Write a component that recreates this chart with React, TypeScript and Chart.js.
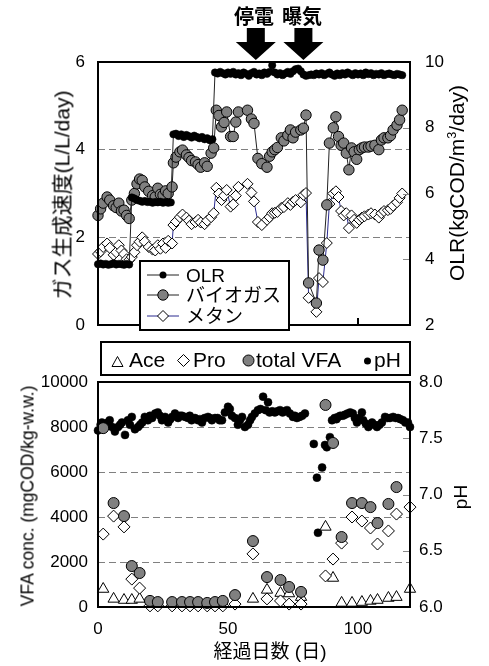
import React, { useEffect, useRef } from "react";
import { Chart, registerables } from "chart.js";

Chart.register(...registerables);

const LATIN = "'Liberation Sans', Arial, 'Noto Sans CJK JP', sans-serif";
const CJK = "'Noto Sans CJK JP', 'Liberation Sans', sans-serif";

// ---------------- top panel data ----------------
const olrDays = [
  0, 1, 2, 3, 4, 5, 6, 7, 8, 9, 10, 11, 12,
  13, 14, 15, 16, 17, 18, 19, 20, 21, 22, 23, 24, 25, 26, 27, 28,
  29, 30, 31, 32, 33, 34, 35, 36, 37, 38, 39, 40, 41, 42, 43, 44,
  45, 46, 47, 48, 49, 50, 51, 52, 53, 54, 55, 56, 57, 58, 59, 60,
  61, 62, 63, 64, 65, 66, 67, 68, 69, 70, 71, 72, 73, 74, 75, 76,
  77, 78, 79, 80, 81, 82, 83, 84, 85, 86, 87, 88, 89, 90, 91, 92,
  93, 94, 95, 96, 97, 98, 99, 100, 101, 102, 103, 104, 105, 106, 107, 108,
  109, 110, 111, 112, 113, 114, 115, 116, 117,
];
const olr = [
  3.85, 3.87, 3.84, 3.86, 3.83, 3.85, 3.88, 3.84, 3.86, 3.85, 3.83, 3.86, 3.84,
  5.88, 5.85, 5.8, 5.78, 5.75, 5.77, 5.74, 5.75, 5.72, 5.74, 5.73, 5.75, 5.72, 5.74, 5.72, 5.73,
  7.8, 7.82, 7.75, 7.8, 7.72, 7.78, 7.74, 7.7, 7.76, 7.72, 7.68, 7.72, 7.65, 7.68, 7.62, 7.65,
  9.68, 9.65, 9.7, 9.66, 9.62, 9.68, 9.64, 9.7, 9.62, 9.66,
  9.6, 9.68, 9.64, 9.58, 9.66, 9.7, 9.62, 9.65, 9.6, 9.68, 9.64, 9.7,
  9.9,
  9.68, 9.62, 9.66, 9.6, 9.65, 9.7, 9.64, 9.72, 9.78, 9.8, 9.72, 9.62, 9.58,
  9.6, 9.62, 9.6, 9.65, 9.62, 9.66, 9.6, 9.64, 9.68, 9.62, 9.58, 9.65, 9.6, 9.66, 9.62, 9.68,
  9.64, 9.6, 9.66, 9.62, 9.65, 9.6, 9.68, 9.63, 9.66, 9.6, 9.64, 9.62, 9.66, 9.6, 9.63, 9.65,
  9.62, 9.6, 9.64, 9.62, 9.6,
];
const gasDays = [
  0, 1, 2, 3.5, 4.5, 6, 7, 8, 9, 10, 11, 12,
  13, 14, 15, 16, 17, 18, 19.5, 21, 22, 23, 24, 25, 26, 27, 28.5,
  29, 30, 31.5, 32.5, 34, 35, 36, 37.5, 38.5, 39.5, 41, 42, 43.5, 44.5,
  45.5, 46.5, 47.5, 48.5, 49.5, 51, 52, 53, 54, 57.5, 59, 60,
  61.5, 63, 65, 66, 67, 68, 69, 70.5, 71.5, 73, 74, 75, 76, 78, 79, 80,
  81, 84, 85, 86.5, 88, 89, 90.5, 91.5, 92.5, 93.5, 94.5, 95.5, 96.5, 97.5, 98.5, 99.5,
  100.5, 101.5, 102.5, 104, 105, 106.5, 108, 109, 110, 111.5, 112.5, 113.5, 115, 116, 117,
];
const biogas = [
  2.5, 2.65, 2.78, 2.92, 2.85, 2.72, 2.68, 2.78, 2.6, 2.62, 2.5, 2.43,
  2.85, 3.0, 3.22, 3.33, 3.3, 3.15, 3.05, 2.95, 2.92, 3.12, 2.98, 2.96, 3.06, 3.0, 3.15,
  3.7, 3.83, 3.95, 3.99, 3.88, 3.82, 3.75, 3.72, 3.66, 3.6, 3.7, 3.62, 3.92, 4.04,
  4.9, 4.78, 4.52, 4.62, 4.86, 4.3, 4.3, 4.63, 4.86, 4.9, 4.7, 4.6,
  3.8, 3.68, 3.6, 3.85, 3.95, 4.0, 4.05, 4.27, 4.2, 4.33, 4.45, 4.27, 4.4, 4.45, 4.49, 4.79,
  0.96, 0.5, 1.71, 1.48, 2.74, 4.15, 4.5, 4.75, 4.3, 4.1, 4.15, 3.92, 3.54, 4.04, 3.95, 3.78,
  4.0, 4.04, 4.06, 4.06, 4.08, 4.1, 4.0, 4.22, 4.27, 4.27, 4.32, 4.45, 4.56, 4.68, 4.9,
];
const methane = [
  1.62, 1.68, 1.78, 1.86, 1.76, 1.6, 1.66, 1.82, 1.7, 1.62, 1.5, 1.48,
  1.55, 1.66, 1.82, 1.9, 2.0, 1.9, 1.78, 1.72, 1.7, 1.82, 1.74, 1.86, 1.76, 1.92, 1.86,
  2.28, 2.36, 2.46, 2.52, 2.45, 2.38, 2.3, 2.35, 2.4, 2.34, 2.3, 2.38, 2.46, 2.55,
  3.13, 3.0, 2.85, 2.95, 3.08, 2.7, 2.75, 2.95, 3.15, 3.22, 3.02, 2.82,
  2.35, 2.28, 2.4, 2.46, 2.55, 2.56, 2.58, 2.67, 2.69, 2.78, 2.74, 2.81, 2.85, 2.8, 2.97, 3.01,
  0.62, 0.3, 1.07, 0.98, 1.87, 2.76, 3.0, 3.05, 2.92, 2.6, 2.5, 2.55, 2.21, 2.5, 2.4, 2.33,
  2.4, 2.45, 2.48, 2.52, 2.55, 2.52, 2.45, 2.55, 2.6, 2.62, 2.65, 2.72, 2.8, 2.9, 3.0,
];
const gasTicks = [0, 2, 4, 6];
const olrTicks = [2, 4, 6, 8, 10];
const dayTicks = [0, 50, 100];
const eventDays = [60.7, 79];
const eventLabels = ["停電", "曝気"];

// ---------------- bottom panel data ----------------
const vfaDays = [
  2, 6, 10, 13, 16, 20, 23, 28.5, 32.3, 35.4, 38.5, 42, 45, 48, 52.7,
  59.6, 65, 70.2, 73.5, 78.1, 87.5, 90.4, 93.7, 97.7, 101.5, 104.8, 107.5, 111.7, 114.8, 120,
];
const totalVFA = [
  7950, 4620, 4040, 1820, 1510, 270, 220, 220, 220, 220, 220, 180, 220, 270, 530,
  2930, 1330, 1200, 890, 670, 8980, 7290, 3110, 4620, 4620, 4440, 3730, 4580, 5330, null,
];
const pro = [
  3240, 4040, 3560, 1240, 840, 50, 50, 50, 50, 50, 50, 50, 50, 50, 130,
  2360, 360, 270, 130, 130, 1380, 2130, 2840, 4000, 3820, 3510, 2800, 3380, 4130, 4440,
];
const ace = [
  800, 360, 310, 310, 360, null, null, null, null, null, null, null, null, null, null,
  360, 760, 620, 600, 440, 3560, 1290, 180, 180, 220, 270, 310, 400, 440, 800,
];
const phDays = [
  0, 1, 1.5, 2.7, 3.8, 4.5, 5.4, 6.5, 7.7, 8.5, 9.2, 10.4, 11.5, 12.3, 13, 14.2, 15.4, 16.2,
  17, 18, 19.2, 20, 20.8, 22, 23, 23.8, 24.6, 25.8, 27, 27.8, 28.5, 29.6, 30.8, 31.5, 32.3,
  33.5, 34.6, 35.3, 36, 37.3, 38.5, 39.2, 40, 41, 42.3, 43, 43.8, 45, 46, 46.8, 47.7, 48.8,
  50, 50.7, 51.5, 52.7, 53.8, 54.6, 55.4, 56.5, 57.7, 58.5, 59.2, 60.3, 61.5, 62.5, 63.5,
  64.5, 65.4, 66, 67, 68, 69, 70, 71, 71.8, 72.7, 73.8, 75, 75.7, 76.5, 77.5, 78.5, 79.6,
  83, 84.2, 84.6, 86.2, 87.3, 88, 89.2, 90, 91, 91.7, 92.3, 93.2, 94.2, 95, 96, 97, 98,
  98.8, 99.6, 100.5, 101.5, 102, 103, 104, 104.7, 105.4, 106.3, 107.3, 108.3, 109.2, 110.4,
  111.4, 112.3, 113.5, 114.5, 115.4, 116.3, 117.3, 118.2, 119.2, 120,
];
const ph = [
  7.57, 7.62, 7.64, 7.6, 7.64, 7.66, 7.6, 7.56, 7.6, 7.62, 7.64, 7.53, 7.66, 7.62, 7.69, 7.58, 7.6, 7.62,
  7.64, 7.69, 7.66, 7.7, 7.68, 7.72, 7.73, 7.7, 7.66, 7.69, 7.64, 7.67, 7.69, 7.72, 7.68, 7.7, 7.7,
  7.69, 7.68, 7.7, 7.66, 7.68, 7.66, 7.67, 7.64, 7.68, 7.69, 7.68, 7.66, 7.68, 7.68, 7.66, 7.66, 7.73,
  7.78, 7.76, 7.7, 7.68, 7.62, 7.66, 7.69, 7.6, 7.62, 7.66, 7.69, 7.72, 7.75, 7.76, 7.87,
  7.75, 7.82, 7.73, 7.74, 7.73, 7.74, 7.75, 7.73, 7.74, 7.75, 7.72, 7.69, 7.7, 7.68, 7.69, 7.7, 7.72,
  7.45, 7.15, 6.66, 7.24, 7.44, 7.42, 7.51, 7.66, 7.68, 7.67, 7.69, 7.7, 7.7, 7.71, 7.72, 7.73, 7.72,
  7.68, 7.64, 7.68, 7.73, 7.66, 7.63, 7.6, 7.62, 7.64, 7.62, 7.6, 7.62, 7.64, 7.69,
  7.68, 7.68, 7.69, 7.68, 7.68, 7.67, 7.66, 7.64, 7.64, 7.6,
];
const vfaTicks = [0, 2000, 4000, 6000, 8000, 10000];
const phTicks = [6.0, 6.5, 7.0, 7.5, 8.0];

// ---------------- helpers ----------------
const pts = (xs: number[], ys: (number | null)[]) =>
  xs.map((x, i) => ({ x, y: ys[i] })).filter((p) => p.y !== null && p.y !== undefined);

const setTicks = (arr: number[]) => (axis: any) => {
  axis.ticks = arr.map((v) => ({ value: v }));
};

const tickFont = { family: LATIN, size: 17 };

function framePlugin(innerR: number[], innerX: number[], arrows: number[]) {
  return {
    id: "frame",
    afterDatasetsDraw(chart: any) {
      const { ctx, chartArea: a, scales } = chart;
      ctx.save();
      ctx.strokeStyle = "#888";
      ctx.lineWidth = 1;
      for (const v of innerR) {
        const y = Math.round(scales.yR.getPixelForValue(v)) + 0.5;
        ctx.beginPath();
        ctx.moveTo(a.right, y);
        ctx.lineTo(a.right - 7, y);
        ctx.stroke();
      }
      ctx.strokeStyle = "#000";
      ctx.lineWidth = 2;
      for (const v of innerX) {
        const x = scales.x.getPixelForValue(v);
        ctx.beginPath();
        ctx.moveTo(x, a.bottom);
        ctx.lineTo(x, a.bottom - 7);
        ctx.stroke();
      }
      ctx.strokeRect(a.left, a.top, a.right - a.left, a.bottom - a.top);
      ctx.fillStyle = "#000";
      for (const d of arrows) {
        const cx = scales.x.getPixelForValue(d);
        const tip = a.top - 2;
        ctx.beginPath();
        ctx.moveTo(cx - 9, tip - 32);
        ctx.lineTo(cx + 9, tip - 32);
        ctx.lineTo(cx + 9, tip - 18);
        ctx.lineTo(cx + 20, tip - 18);
        ctx.lineTo(cx, tip);
        ctx.lineTo(cx - 20, tip - 18);
        ctx.lineTo(cx - 9, tip - 18);
        ctx.closePath();
        ctx.fill();
      }
      ctx.restore();
    },
  };
}

const centered = (cx: number, cy: number, size: number, family: string, extra: any = {}) => ({
  position: "absolute" as const,
  left: cx,
  top: cy,
  transform: "translate(-50%, -50%)",
  fontSize: size,
  fontFamily: family,
  lineHeight: 1.2,
  whiteSpace: "nowrap" as const,
  color: "#000",
  ...extra,
});

const vertical = (cx: number, cy: number, size: number, family: string) => ({
  position: "absolute" as const,
  left: cx,
  top: cy,
  transform: "translate(-50%, -50%) rotate(-90deg)",
  fontSize: size,
  fontFamily: family,
  lineHeight: 1.2,
  whiteSpace: "nowrap" as const,
  color: "#000",
});

const baseline = (x: number, base: number, size: number) => ({
  position: "absolute" as const,
  left: x,
  top: base - 0.8465 * size,
  fontSize: size,
  fontFamily: LATIN,
  lineHeight: 1,
  whiteSpace: "nowrap" as const,
  color: "#000",
});

export default function App() {
  const topRef = useRef<HTMLCanvasElement>(null);
  const botRef = useRef<HTMLCanvasElement>(null);

  useEffect(() => {
    const top = new Chart(topRef.current as HTMLCanvasElement, {
      type: "scatter",
      data: {
        datasets: [
          {
            label: "OLR",
            data: pts(olrDays, olr),
            yAxisID: "yR",
            showLine: true,
            borderColor: "#222",
            borderWidth: 1,
            pointRadius: 3.7,
            pointBackgroundColor: "#000",
            pointBorderColor: "#000",
            pointBorderWidth: 0.5,
            clip: false,
          } as any,
          {
            label: "バイオガス",
            data: pts(gasDays, biogas),
            yAxisID: "yL",
            showLine: true,
            borderColor: "#222",
            borderWidth: 1,
            pointRadius: 5.2,
            pointBackgroundColor: "#808080",
            pointBorderColor: "#000",
            pointBorderWidth: 1,
            clip: false,
          } as any,
          {
            label: "メタン",
            data: pts(gasDays, methane),
            yAxisID: "yL",
            showLine: true,
            borderColor: "#2b2b8f",
            borderWidth: 1,
            pointStyle: "rectRot",
            pointRadius: 5.5,
            pointBackgroundColor: "#fff",
            pointBorderColor: "#000",
            pointBorderWidth: 1,
            clip: false,
          } as any,
        ],
      },
      options: {
        animation: false,
        responsive: false,
        devicePixelRatio: 1,
        events: [],
        layout: { padding: { top: 62, left: 0, right: 0, bottom: 0 } },
        plugins: { legend: { display: false }, tooltip: { enabled: false } },
        scales: {
          x: {
            type: "linear",
            min: 0,
            max: 120,
            afterBuildTicks: setTicks(dayTicks),
            ticks: { display: false },
            grid: { display: false },
            border: { display: false },
            afterFit: (s: any) => {
              s.height = 341;
            },
          },
          yL: {
            position: "left",
            min: 0,
            max: 6,
            afterBuildTicks: setTicks(gasTicks),
            ticks: { font: tickFont, color: "#000", padding: 13, callback: (v: any) => String(v) },
            grid: { drawTicks: false, color: "#808080", lineWidth: 1 },
            border: { display: false, dash: [7, 4] },
            afterFit: (s: any) => {
              s.width = 98;
            },
          },
          yR: {
            position: "right",
            min: 2,
            max: 10,
            afterBuildTicks: setTicks(olrTicks),
            ticks: { font: tickFont, color: "#000", padding: 15, callback: (v: any) => String(v) },
            grid: { display: false, drawTicks: false },
            border: { display: false },
            afterFit: (s: any) => {
              s.width = 79;
            },
          },
        } as any,
      },
      plugins: [framePlugin([4, 6, 8], [50, 100], eventDays)],
    });

    const bot = new Chart(botRef.current as HTMLCanvasElement, {
      type: "scatter",
      data: {
        datasets: [
          {
            label: "total VFA",
            data: pts(vfaDays, totalVFA),
            yAxisID: "yL",
            pointRadius: 5.5,
            pointBackgroundColor: "#808080",
            pointBorderColor: "#000",
            pointBorderWidth: 1,
            clip: false,
          } as any,
          {
            label: "Pro",
            data: pts(vfaDays, pro),
            yAxisID: "yL",
            pointStyle: "rectRot",
            pointRadius: 6,
            pointBackgroundColor: "#fff",
            pointBorderColor: "#000",
            pointBorderWidth: 1,
            clip: false,
          } as any,
          {
            label: "Ace",
            data: pts(vfaDays, ace),
            yAxisID: "yL",
            pointStyle: "triangle",
            pointRadius: 6.5,
            pointBackgroundColor: "#fff",
            pointBorderColor: "#000",
            pointBorderWidth: 1,
            clip: false,
          } as any,
          {
            label: "pH",
            data: pts(phDays, ph),
            yAxisID: "yR",
            pointRadius: 4,
            pointBackgroundColor: "#000",
            pointBorderColor: "#000",
            pointBorderWidth: 0.5,
            clip: false,
          } as any,
        ],
      },
      options: {
        animation: false,
        responsive: false,
        devicePixelRatio: 1,
        events: [],
        layout: { padding: { top: 382, left: 0, right: 0, bottom: 0 } },
        plugins: { legend: { display: false }, tooltip: { enabled: false } },
        scales: {
          x: {
            type: "linear",
            min: 0,
            max: 120,
            afterBuildTicks: setTicks(dayTicks),
            ticks: { font: tickFont, color: "#000", padding: 12, maxRotation: 0, callback: (v: any) => String(v) },
            grid: { display: false, drawTicks: false },
            border: { display: false },
            afterFit: (s: any) => {
              s.height = 59;
            },
          },
          yL: {
            position: "left",
            min: 0,
            max: 10000,
            afterBuildTicks: setTicks(vfaTicks),
            ticks: { font: tickFont, color: "#000", padding: 10, callback: (v: any) => String(v) },
            grid: { drawTicks: false, color: "#808080", lineWidth: 1 },
            border: { display: false, dash: [7, 4] },
            afterFit: (s: any) => {
              s.width = 98;
            },
          },
          yR: {
            position: "right",
            min: 6,
            max: 8,
            afterBuildTicks: setTicks(phTicks),
            ticks: { font: tickFont, color: "#000", padding: 9, callback: (v: any) => Number(v).toFixed(1) },
            grid: { display: false, drawTicks: false },
            border: { display: false },
            afterFit: (s: any) => {
              s.width = 79;
            },
          },
        } as any,
      },
      plugins: [framePlugin([6.5, 7.0, 7.5], [], [])],
    });

    return () => {
      top.destroy();
      bot.destroy();
    };
  }, []);

  return (
    <div
      style={{
        position: "absolute",
        left: 0,
        top: 0,
        width: 489,
        height: 666,
        background: "#fff",
        overflow: "hidden",
      }}
    >
      <canvas ref={topRef} width={489} height={666} style={{ position: "absolute", left: 0, top: 0 }} />
      <canvas ref={botRef} width={489} height={666} style={{ position: "absolute", left: 0, top: 0 }} />

      {/* event annotations */}
      <div style={centered(254, 16, 20, CJK, { fontWeight: 700 })}>{eventLabels[0]}</div>
      <div style={centered(302, 16, 20, CJK, { fontWeight: 700 })}>{eventLabels[1]}</div>

      {/* axis titles */}
      <div style={vertical(62, 195, 21, LATIN)}>ガス生成速度(L/L/day)</div>
      <div style={vertical(457, 183, 21, LATIN)}>
        OLR(kgCOD/m<sup style={{ fontSize: "0.6em" }}>3</sup>/day)
      </div>
      <div style={vertical(28, 496, 17.5, LATIN)}>VFA conc. (mgCOD/kg-w.w.)</div>
      <div style={vertical(461, 497, 19, LATIN)}>pH</div>
      <div style={centered(270, 652, 19, LATIN)}>経過日数 (日)</div>

      {/* top legend */}
      <div
        style={{
          position: "absolute",
          left: 139,
          top: 260,
          width: 151,
          height: 71,
          boxSizing: "border-box",
          border: "2px solid #000",
          background: "#fff",
        }}
      />
      {/* bottom legend */}
      <div
        style={{
          position: "absolute",
          left: 100,
          top: 341,
          width: 311,
          height: 35,
          boxSizing: "border-box",
          border: "2px solid #000",
          background: "#fff",
        }}
      />
      <svg width={489} height={666} style={{ position: "absolute", left: 0, top: 0 }}>
        <line x1={147} y1={275} x2={179} y2={275} stroke="#222" strokeWidth={1} />
        <circle cx={163} cy={275} r={3.5} fill="#000" />
        <line x1={147} y1={295} x2={179} y2={295} stroke="#222" strokeWidth={1} />
        <circle cx={163} cy={295} r={5.2} fill="#808080" stroke="#000" strokeWidth={1} />
        <line x1={147} y1={316} x2={179} y2={316} stroke="#2b2b8f" strokeWidth={1} />
        <polygon points="163,310.5 168.5,316 163,321.5 157.5,316" fill="#fff" stroke="#000" strokeWidth={1} />

        <polygon points="117.5,356.5 123,366.5 112,366.5" fill="#fff" stroke="#000" strokeWidth={1} />
        <polygon points="183.5,354.5 189.5,360.5 183.5,366.5 177.5,360.5" fill="#fff" stroke="#000" strokeWidth={1} />
        <circle cx={248.5} cy={360.5} r={5.5} fill="#808080" stroke="#000" strokeWidth={1} />
        <circle cx={367.5} cy={361} r={3.5} fill="#000" />
      </svg>
      <div style={baseline(186, 281.7, 19)}>OLR</div>
      <div style={baseline(186, 302, 19)}>バイオガス</div>
      <div style={baseline(186, 323, 19)}>メタン</div>

      <div style={baseline(129, 367, 21)}>Ace</div>
      <div style={baseline(193, 367, 21)}>Pro</div>
      <div style={baseline(256, 367, 21)}>total VFA</div>
      <div style={baseline(374, 367, 21)}>pH</div>
    </div>
  );
}
